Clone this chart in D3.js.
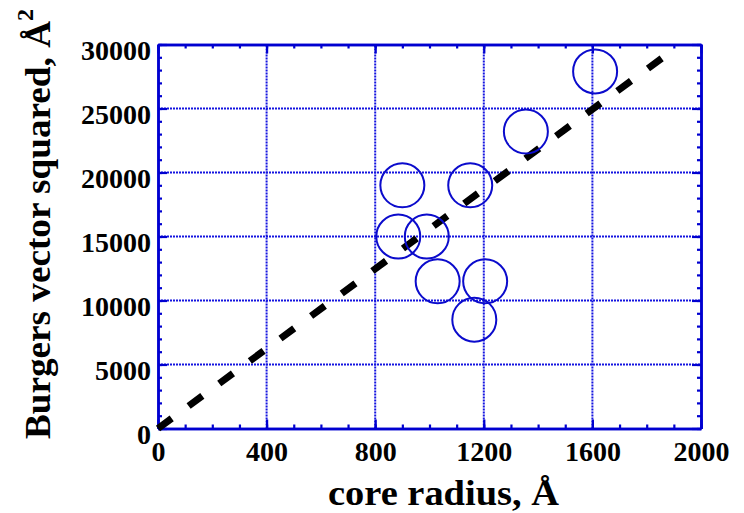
<!DOCTYPE html>
<html>
<head>
<meta charset="utf-8">
<script src="https://cdn.jsdelivr.net/npm/d3@7"></script>
<style>
  body { margin: 0; background: #fff; }
</style>
</head>
<body>
<div id="chart"></div>
<script>
// data
const coreRadius = [900, 1150, 885, 990, 1030, 1205, 1165, 1355, 1610];
const burgersSq = [19000, 19000, 15000, 15000, 11500, 11500, 8500, 23200, 27900];
const fitX = [0, 1880];
const fitY = [0, 29300];
const xTicks = [0, 400, 800, 1200, 1600, 2000];
const yTicks = [0, 5000, 10000, 15000, 20000, 25000, 30000];
const xMinor = d3.range(0, 2001, 100);
const yMinor = d3.range(0, 30001, 1000);

const width = 744;
const height = 513;
const margin = { top: 44.5, right: 43, bottom: 84.5, left: 158 };
const blue = "#0000d0";
const serif = "'Liberation Serif', 'Times New Roman', serif";

const svg = d3.select("#chart")
    .append("svg")
    .attr("width", width)
    .attr("height", height)
    .style("font-family", serif)
    .style("font-weight", "bold");

const x = d3.scaleLinear()
    .domain([0, 2000])
    .range([margin.left, width - margin.right]);

const y = d3.scaleLinear()
    .domain([0, 30000])
    .range([height - margin.bottom, margin.top]);

// dotted grid
svg.append("g")
    .selectAll("line")
    .data(xTicks.slice(1, -1))
    .enter()
    .append("line")
    .attr("x1", d => x(d)).attr("x2", d => x(d))
    .attr("y1", y(0)).attr("y2", y(30000))
    .attr("stroke", "#1414e0")
    .attr("stroke-width", 2)
    .attr("stroke-dasharray", "2,1");

svg.append("g")
    .selectAll("line")
    .data(yTicks.slice(1, -1))
    .enter()
    .append("line")
    .attr("y1", d => y(d)).attr("y2", d => y(d))
    .attr("x1", x(0)).attr("x2", x(2000))
    .attr("stroke", "#1414e0")
    .attr("stroke-width", 2)
    .attr("stroke-dasharray", "2,1");

// axes: major and minor ticks inward, on all four sides
function styleAxis(g) {
    g.attr("font-family", serif);
    g.selectAll("path, line").attr("stroke", blue).attr("stroke-width", 2.2);
    g.select(".domain").attr("stroke-width", 2.5);
}

const noLabel = () => "";

svg.append("g")
    .attr("transform", `translate(0, ${y(0)})`)
    .call(d3.axisBottom(x).tickValues(xMinor).tickSize(-4).tickSizeOuter(0).tickFormat(noLabel))
    .call(styleAxis);

const bottom = svg.append("g")
    .attr("transform", `translate(0, ${y(0)})`)
    .call(d3.axisBottom(x).tickValues(xTicks).tickSize(-9).tickSizeOuter(0).tickFormat(d3.format("d")))
    .call(styleAxis);

bottom.selectAll("text")
    .attr("y", 32)
    .attr("dy", 0)
    .attr("fill", "#000")
    .style("font-family", serif)
    .style("font-weight", "bold")
    .style("font-size", "28px");

svg.append("g")
    .attr("transform", `translate(0, ${y(30000)})`)
    .call(d3.axisTop(x).tickValues(xMinor).tickSize(-4).tickSizeOuter(0).tickFormat(noLabel))
    .call(styleAxis);

svg.append("g")
    .attr("transform", `translate(0, ${y(30000)})`)
    .call(d3.axisTop(x).tickValues(xTicks).tickSize(-9).tickSizeOuter(0).tickFormat(noLabel))
    .call(styleAxis);

svg.append("g")
    .attr("transform", `translate(${x(0)}, 0)`)
    .call(d3.axisLeft(y).tickValues(yMinor).tickSize(-4).tickSizeOuter(0).tickFormat(noLabel))
    .call(styleAxis);

const left = svg.append("g")
    .attr("transform", `translate(${x(0)}, 0)`)
    .call(d3.axisLeft(y).tickValues(yTicks).tickSize(-9).tickSizeOuter(0).tickFormat(d3.format("d")))
    .call(styleAxis);

left.selectAll("text")
    .attr("x", -7)
    .attr("dy", 14.5)
    .attr("fill", "#000")
    .style("font-family", serif)
    .style("font-weight", "bold")
    .style("font-size", "28px");

svg.append("g")
    .attr("transform", `translate(${x(2000)}, 0)`)
    .call(d3.axisRight(y).tickValues(yMinor).tickSize(-4).tickSizeOuter(0).tickFormat(noLabel))
    .call(styleAxis);

svg.append("g")
    .attr("transform", `translate(${x(2000)}, 0)`)
    .call(d3.axisRight(y).tickValues(yTicks).tickSize(-9).tickSizeOuter(0).tickFormat(noLabel))
    .call(styleAxis);

// fit line
const line = d3.line()
    .x(d => x(d[0]))
    .y(d => y(d[1]));

svg.append("path")
    .datum(d3.zip(fitX, fitY))
    .attr("d", line)
    .attr("fill", "none")
    .attr("stroke", "#000")
    .attr("stroke-width", 7)
    .attr("stroke-dasharray", "17,21");

// points
svg.selectAll("circle.pt")
    .data(d3.zip(coreRadius, burgersSq))
    .enter()
    .append("circle")
    .attr("class", "pt")
    .attr("cx", d => x(d[0]))
    .attr("cy", d => y(d[1]))
    .attr("r", 22)
    .attr("fill", "none")
    .attr("stroke", "#0b0bcc")
    .attr("stroke-width", 2);

// axis titles
svg.append("text")
    .attr("x", 443.5)
    .attr("y", 505)
    .attr("text-anchor", "middle")
    .attr("textLength", 231)
    .attr("lengthAdjust", "spacingAndGlyphs")
    .style("font-size", "35px")
    .text("core radius, Å");

const yTitle = svg.append("text")
    .attr("transform", "translate(50, 439) rotate(-90)")
    .style("font-size", "35px");

yTitle.append("tspan")
    .attr("textLength", 418)
    .attr("lengthAdjust", "spacingAndGlyphs")
    .text("Burgers vector squared, Å");

yTitle.append("tspan")
    .attr("dy", -17)
    .style("font-size", "24px")
    .text("2");
</script>
</body>
</html>
